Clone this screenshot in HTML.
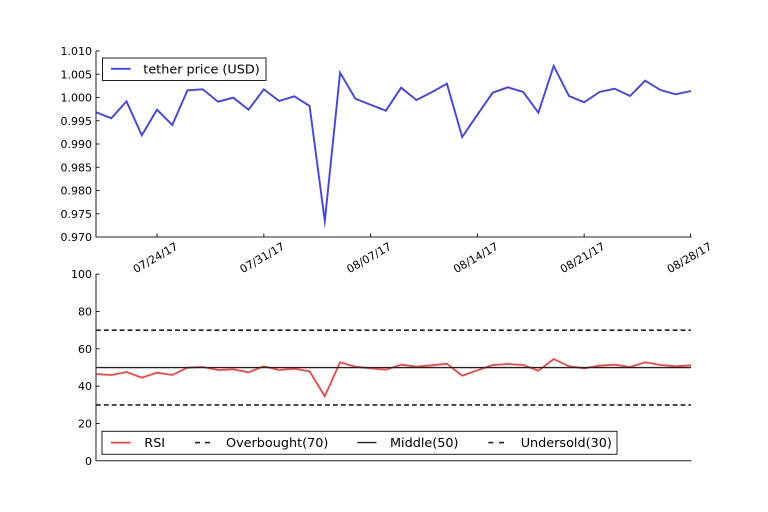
<!DOCTYPE html>
<html>
<head>
<meta charset="utf-8">
<style>
  html, body { margin: 0; padding: 0; background: #ffffff; }
  svg { display: block; }
  text { font-family: "DejaVu Sans", "Liberation Sans", sans-serif; fill: #000; }
</style>
</head>
<body>
<svg width="768" height="512" viewBox="0 0 768 512" xmlns="http://www.w3.org/2000/svg">
  <rect x="0" y="0" width="768" height="512" fill="#ffffff"/>

  <!-- ================= TOP CHART ================= -->
  <polyline fill="none" stroke="#4040ff" stroke-width="1.9" stroke-linejoin="miter" stroke-miterlimit="10"
    points="96,112.3 111.3,118.3 126.5,101.3 141.8,135.3 157,109.7 172.3,125 187.5,90.3 202.8,89.3 218,101.7 233.3,97.7 248.6,109.7 263.8,89.3 279.1,101 294.3,96.3 309.6,106 324.8,221 340.1,72.7 355.4,98.7 370.6,104.7 385.9,110.7 401.1,87.7 416.4,100 431.6,92.3 446.9,83.7 462.2,137 477.4,114.7 492.7,92.7 507.9,87.3 523.2,92 538.4,112.7 553.7,66 569,96 584.2,102.3 599.5,92 614.7,88.7 630,96 645.2,80.7 660.5,90 675.7,94.3 691,91"/>

  <line x1="96" y1="51" x2="96" y2="237.5" stroke="#222" stroke-width="1"/>
  <line x1="95.5" y1="237" x2="691.5" y2="237" stroke="#222" stroke-width="1"/>

  <g stroke="#222" stroke-width="1">
    <line x1="96" y1="51" x2="99.6" y2="51"/>
    <line x1="96" y1="74.25" x2="99.6" y2="74.25"/>
    <line x1="96" y1="97.5" x2="99.6" y2="97.5"/>
    <line x1="96" y1="120.75" x2="99.6" y2="120.75"/>
    <line x1="96" y1="144" x2="99.6" y2="144"/>
    <line x1="96" y1="167.25" x2="99.6" y2="167.25"/>
    <line x1="96" y1="190.5" x2="99.6" y2="190.5"/>
    <line x1="96" y1="213.75" x2="99.6" y2="213.75"/>
    <line x1="96" y1="237" x2="99.6" y2="237"/>
  </g>
  <g font-size="11" text-anchor="end">
    <text x="92" y="55">1.010</text>
    <text x="92" y="78.25">1.005</text>
    <text x="92" y="101.5">1.000</text>
    <text x="92" y="124.75">0.995</text>
    <text x="92" y="148">0.990</text>
    <text x="92" y="171.25">0.985</text>
    <text x="92" y="194.5">0.980</text>
    <text x="92" y="217.75">0.975</text>
    <text x="92" y="241">0.970</text>
  </g>

  <g stroke="#222" stroke-width="1">
    <line x1="157" y1="237" x2="157" y2="233.4"/>
    <line x1="263.8" y1="237" x2="263.8" y2="233.4"/>
    <line x1="370.6" y1="237" x2="370.6" y2="233.4"/>
    <line x1="477.4" y1="237" x2="477.4" y2="233.4"/>
    <line x1="584.2" y1="237" x2="584.2" y2="233.4"/>
    <line x1="690.5" y1="237" x2="690.5" y2="233.4"/>
  </g>
  <g font-size="11" text-anchor="middle" dominant-baseline="central">
    <text x="155.5" y="258" transform="rotate(-30 155.5 258)">07/24/17</text>
    <text x="262.3" y="258" transform="rotate(-30 262.3 258)">07/31/17</text>
    <text x="369.1" y="258" transform="rotate(-30 369.1 258)">08/07/17</text>
    <text x="475.9" y="258" transform="rotate(-30 475.9 258)">08/14/17</text>
    <text x="582.7" y="258" transform="rotate(-30 582.7 258)">08/21/17</text>
    <text x="689.5" y="258" transform="rotate(-30 689.5 258)">08/28/17</text>
  </g>

  <rect x="102.5" y="58" width="163.5" height="22.5" fill="#ffffff" stroke="#222" stroke-width="1"/>
  <line x1="111" y1="68.8" x2="130.7" y2="68.8" stroke="#4040ff" stroke-width="1.9"/>
  <text x="143.3" y="73.6" font-size="12.8">tether price (USD)</text>

  <!-- ================= BOTTOM CHART ================= -->
  <polyline fill="none" stroke="#ff4040" stroke-width="1.8" stroke-linejoin="miter" stroke-miterlimit="10"
    points="96,374 111.3,375 126.5,372 141.8,377.7 157,372.7 172.3,375 187.5,367.7 202.8,367 218,370 233.3,369.3 248.6,372.3 263.8,366.3 279.1,370 294.3,368.7 309.6,371.3 324.8,396.3 340.1,362.3 355.4,366.7 370.6,368.3 385.9,369.7 401.1,364.7 416.4,366.7 431.6,365.3 446.9,363.7 462.2,375.7 477.4,370.3 492.7,365 507.9,364 523.2,365 538.4,370.7 553.7,359 569,366.3 584.2,368.3 599.5,365.7 614.7,364.7 630,367 645.2,362.3 660.5,365 675.7,366.3 691,365.3"/>

  <line x1="96" y1="330.2" x2="691" y2="330.2" stroke="#222" stroke-width="1.6" stroke-dasharray="4.8 3.1"/>
  <line x1="96" y1="367.6" x2="691" y2="367.6" stroke="#222" stroke-width="1.4"/>
  <line x1="96" y1="404.9" x2="691" y2="404.9" stroke="#222" stroke-width="1.6" stroke-dasharray="4.8 3.1"/>

  <line x1="96" y1="274" x2="96" y2="461" stroke="#222" stroke-width="1"/>
  <line x1="95.5" y1="460.8" x2="691.5" y2="460.8" stroke="#222" stroke-width="1"/>

  <g stroke="#222" stroke-width="1">
    <line x1="96" y1="274.2" x2="99.6" y2="274.2"/>
    <line x1="96" y1="311.5" x2="99.6" y2="311.5"/>
    <line x1="96" y1="348.8" x2="99.6" y2="348.8"/>
    <line x1="96" y1="386.2" x2="99.6" y2="386.2"/>
    <line x1="96" y1="423.5" x2="99.6" y2="423.5"/>
  </g>
  <g font-size="11" text-anchor="end">
    <text x="92" y="278.2">100</text>
    <text x="92" y="315.5">80</text>
    <text x="92" y="352.8">60</text>
    <text x="92" y="390.2">40</text>
    <text x="92" y="427.5">20</text>
    <text x="92" y="464.8">0</text>
  </g>

  <rect x="102" y="431.3" width="515" height="23" fill="#ffffff" stroke="#222" stroke-width="1"/>
  <line x1="111" y1="442.6" x2="130.7" y2="442.6" stroke="#ff4040" stroke-width="1.8"/>
  <text x="144.3" y="447.2" font-size="12.8">RSI</text>
  <g stroke="#222" stroke-width="1.6">
    <line x1="195" y1="442.6" x2="200" y2="442.6"/>
    <line x1="205" y1="442.6" x2="210" y2="442.6"/>
  </g>
  <text x="226" y="447.2" font-size="12.8">Overbought(70)</text>
  <line x1="357.3" y1="442.6" x2="376.5" y2="442.6" stroke="#222" stroke-width="1.4"/>
  <text x="390" y="447.2" font-size="12.8">Middle(50)</text>
  <g stroke="#222" stroke-width="1.6">
    <line x1="488.3" y1="442.6" x2="493.3" y2="442.6"/>
    <line x1="499" y1="442.6" x2="504" y2="442.6"/>
  </g>
  <text x="520.7" y="447.2" font-size="12.8">Undersold(30)</text>
</svg>
</body>
</html>
